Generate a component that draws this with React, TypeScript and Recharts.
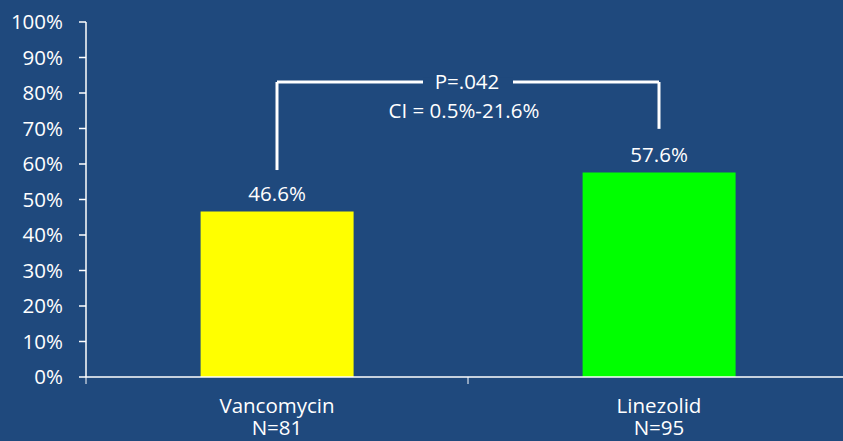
import React from "react";
import { BarChart, Bar, XAxis, YAxis, Cell, LabelList, ReferenceLine } from "recharts";

const categories = ["Vancomycin", "Linezolid"];
const subLabels = ["N=81", "N=95"];
const values = [46.6, 57.6];
const barColors = ["#FFFF00", "#00FF00"];
const yTicks = [0, 10, 20, 30, 40, 50, 60, 70, 80, 90, 100];
const bracketTop = 83.1;
const bracketLeftBottom = 58.3;
const bracketRightBottom = 69.9;
const pText = "P=.042";
const ciText = "CI = 0.5%-21.6%";

const BG = "#1F497D";
const FONT = "'Open Sans', sans-serif";
const FS = 20.5;

const data = categories.map((c, i) => ({ name: c, sub: subLabels[i], value: values[i] }));

const XTick = (props: any) => {
  const { x, y, payload, width, visibleTicksCount, index } = props;
  const band = width / visibleTicksCount;
  const axisY = y - 6;
  const sub = data.find((d) => d.name === payload.value)?.sub;
  return (
    <g>
      <line x1={x - band / 2} x2={x - band / 2} y1={axisY} y2={axisY + 7} stroke="#fff" strokeWidth={1} />
      {index === visibleTicksCount - 1 && (
        <line x1={x + band / 2} x2={x + band / 2} y1={axisY} y2={axisY + 7} stroke="#fff" strokeWidth={1} />
      )}
      <text x={x} y={axisY + 36} textAnchor="middle" fill="#fff" fontFamily={FONT} fontSize={FS}>
        {payload.value}
      </text>
      <text x={x} y={axisY + 58} textAnchor="middle" fill="#fff" fontFamily={FONT} fontSize={FS}>
        {sub}
      </text>
    </g>
  );
};

const PLabel = (props: any) => {
  const { viewBox } = props;
  const cx = viewBox.x + viewBox.width / 2 - 1;
  const y = viewBox.y;
  return (
    <g>
      <rect x={cx - 44} y={y - 4} width={90} height={8} fill={BG} />
      <text x={cx} y={y + 7} textAnchor="middle" fill="#fff" fontFamily={FONT} fontSize={FS}>
        {pText}
      </text>
      <text x={cx - 3} y={y + 36} textAnchor="middle" fill="#fff" fontFamily={FONT} fontSize={FS}>
        {ciText}
      </text>
    </g>
  );
};

export default function App() {
  return (
    <div
      style={{
        position: "absolute",
        left: 0,
        top: 0,
        width: 843,
        height: 441,
        overflow: "hidden",
        background: BG,
      }}
    >
      <BarChart
        width={850}
        height={441}
        data={data}
        margin={{ top: 22, right: 0, left: 0, bottom: 0 }}
        barCategoryGap="30%"
      >
        <XAxis
          dataKey="name"
          height={64}
          axisLine={{ stroke: "#fff", strokeWidth: 1.5 }}
          tickLine={false}
          tickSize={6}
          tickMargin={0}
          tick={<XTick />}
          interval={0}
        />
        <YAxis
          width={86}
          domain={[0, 100]}
          ticks={yTicks}
          tickFormatter={(v: number) => `${v}%`}
          axisLine={{ stroke: "#fff", strokeWidth: 1.5 }}
          tickLine={{ stroke: "#fff", strokeWidth: 1.5 }}
          tickSize={7}
          tickMargin={16}
          tick={{ fill: "#fff", fontFamily: FONT, fontSize: FS }}
          interval={0}
        />
        <Bar dataKey="value" isAnimationActive={false}>
          {data.map((d, i) => (
            <Cell key={d.name} fill={barColors[i]} />
          ))}
          <LabelList
            dataKey="value"
            position="top"
            offset={11}
            formatter={(v: any) => `${v}%`}
            fill="#fff"
            fontFamily={FONT}
            fontSize={FS}
          />
        </Bar>
        <ReferenceLine
          segment={[
            { x: categories[0], y: bracketLeftBottom },
            { x: categories[0], y: bracketTop },
          ]}
          stroke="#fff"
          strokeWidth={3}
        />
        <ReferenceLine
          segment={[
            { x: categories[1], y: bracketRightBottom },
            { x: categories[1], y: bracketTop },
          ]}
          stroke="#fff"
          strokeWidth={3}
        />
        <ReferenceLine
          segment={[
            { x: categories[0], y: bracketTop },
            { x: categories[1], y: bracketTop },
          ]}
          stroke="#fff"
          strokeWidth={3}
          label={<PLabel />}
        />
      </BarChart>
    </div>
  );
}
